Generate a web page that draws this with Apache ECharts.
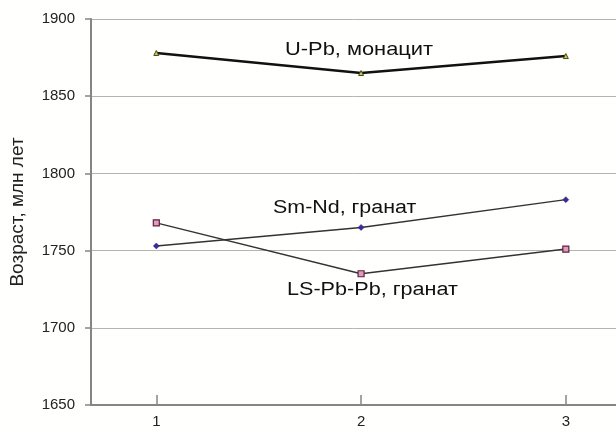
<!DOCTYPE html>
<html><head><meta charset="utf-8">
<script src="https://cdn.jsdelivr.net/npm/echarts@6/dist/echarts.min.js"></script>
<style>html,body{margin:0;padding:0;background:#fffffd}#c{width:616px;height:429px}</style>
</head><body><div id="c"></div>
<script>
var categories = [1, 2, 3];
var uPb = [1878, 1865, 1876];
var smNd = [1753, 1765, 1783];
var lsPbPb = [1768, 1735, 1751];
var yTicks = [1650, 1700, 1750, 1800, 1850, 1900];
var yName = 'Возраст, млн лет';
var labels = ['U-Pb, монацит', 'Sm-Nd, гранат', 'LS-Pb-Pb, гранат'];

function pts(v){ return v.map(function(y,i){ return [categories[i], y]; }); }
var chart = echarts.init(document.getElementById('c'));
var font = '"Liberation Sans", Arial, sans-serif';
chart.setOption({
  backgroundColor: '#fffffd',
  animation: false,
  grid: {left: 90, top: 19, right: -5, bottom: 22, containLabel: false},
  xAxis: {
    type: 'value', min: 0.681, max: 3.245,
    axisLine: {show: true, lineStyle: {color: '#858585', width: 2}},
    axisTick: {show: true, inside: true, length: 10, customValues: categories, lineStyle: {color: '#858585', width: 1.5}},
    axisLabel: {customValues: categories, margin: 9, color: '#222', fontSize: 15, fontFamily: font},
    splitLine: {show: false}
  },
  yAxis: {
    type: 'value', min: yTicks[0], max: yTicks[yTicks.length-1], interval: 50,
    name: yName, nameLocation: 'middle', nameGap: 64, nameRotate: 90,
    nameTextStyle: {fontSize: 19, color: '#222', fontFamily: font},
    axisLine: {show: true, lineStyle: {color: '#858585', width: 2}},
    axisTick: {show: true, inside: false, length: 6, lineStyle: {color: '#858585', width: 1.5}},
    axisLabel: {margin: 16, color: '#222', fontSize: 15, fontFamily: font, formatter: function(v){ return String(v); }},
    splitLine: {show: true, lineStyle: {color: '#b4b4b4', width: 1}}
  },
  series: [
    {type: 'line', data: pts(uPb), symbol: 'triangle', symbolSize: 5,
     lineStyle: {color: '#111', width: 2.4}, itemStyle: {color: '#c8c860', borderColor: '#4a4a10', borderWidth: 1}},
    {type: 'line', data: pts(smNd), symbol: 'diamond', symbolSize: 6,
     lineStyle: {color: '#333', width: 1.4}, itemStyle: {color: '#3a2a9a', borderColor: '#2a1a7a', borderWidth: 0.5}},
    {type: 'line', data: pts(lsPbPb), symbol: 'rect', symbolSize: 6,
     lineStyle: {color: '#333', width: 1.4}, itemStyle: {color: '#d8a0c0', borderColor: '#6a1a3a', borderWidth: 1.2}}
  ],
  graphic: [
    {type: 'text', x: 285, y: 40, scaleX: 1.15, style: {text: labels[0], fontSize: 19, fill: '#111', fontFamily: font}},
    {type: 'text', x: 273, y: 198.8, scaleX: 1.19, style: {text: labels[1], fontSize: 18, fill: '#111', fontFamily: font}},
    {type: 'text', x: 287, y: 280.8, scaleX: 1.2, style: {text: labels[2], fontSize: 18, fill: '#111', fontFamily: font}}
  ]
});
</script></body></html>
